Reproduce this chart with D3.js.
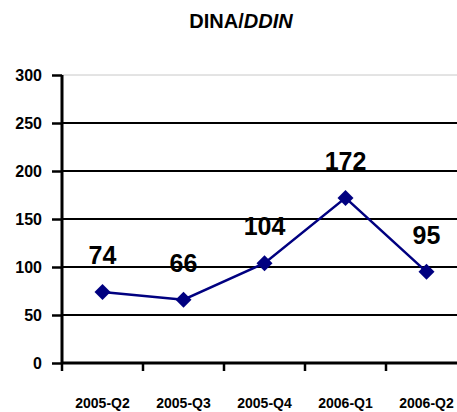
<!DOCTYPE html>
<html>
<head>
<meta charset="utf-8">
<script src="https://cdn.jsdelivr.net/npm/d3@7"></script>
<style>
  body { margin: 0; background: #fff; overflow: hidden; }
  text { font-family: "Liberation Sans", Arial, sans-serif; font-weight: bold; }
</style>
</head>
<body>
<div id="chart"></div>
<script>
const quarters = ["2005-Q2", "2005-Q3", "2005-Q4", "2006-Q1", "2006-Q2"];
const values = [74, 66, 104, 172, 95];
const yTicks = [0, 50, 100, 150, 200, 250, 300];

const W = 457, H = 412;
const margin = { top: 75, left: 62 };
const plotW = 405;   // plot runs past the right edge, as in the original
const plotH = 288;

const svg = d3.select("#chart")
  .append("svg")
  .attr("width", W)
  .attr("height", H);

const g = svg.append("g")
  .attr("transform", `translate(${margin.left},${margin.top})`);

const x = d3.scaleBand().domain(quarters).range([0, plotW]);
const y = d3.scaleLinear().domain([0, 300]).range([plotH, 0]);

// title
const title = svg.append("text")
  .attr("x", 241)
  .attr("y", 28)
  .attr("text-anchor", "middle")
  .attr("font-size", 20);
title.append("tspan").text("DINA/");
title.append("tspan").attr("font-style", "italic").text("DDIN");

// gridlines
g.selectAll(".grid")
  .data(yTicks.filter(d => d > 0))
  .enter()
  .append("line")
  .attr("x1", 0)
  .attr("x2", plotW)
  .attr("y1", d => y(d))
  .attr("y2", d => y(d))
  .attr("stroke", d => d === 300 ? "#c8c8c8" : "#000")
  .attr("stroke-width", d => d === 300 ? 1 : 2);

// y axis
const yAxis = g.append("g")
  .call(d3.axisLeft(y).tickValues(yTicks).tickSize(10).tickPadding(10));
yAxis.select(".domain").attr("stroke-width", 3).attr("d", `M0,0V${plotH}`);
yAxis.selectAll(".tick line").attr("stroke-width", 2.5);
yAxis.selectAll(".tick text").attr("font-size", 16).attr("fill", "#000")
  .style("font-family", "'Liberation Sans', Arial, sans-serif").style("font-weight", "bold");

// x axis
const xAxis = g.append("g")
  .attr("transform", `translate(0,${plotH})`)
  .call(d3.axisBottom(x).tickSize(0).tickPadding(35));
xAxis.select(".domain").attr("stroke-width", 3).attr("d", `M0,0H${plotW}`);
xAxis.selectAll(".tick text").attr("font-size", 14).attr("fill", "#000")
  .style("font-family", "'Liberation Sans', Arial, sans-serif").style("font-weight", "bold");

// category boundary ticks
g.selectAll(".xtick")
  .data(quarters)
  .enter()
  .append("line")
  .attr("x1", d => x(d))
  .attr("x2", d => x(d))
  .attr("y1", plotH)
  .attr("y2", plotH + 8)
  .attr("stroke", "#000")
  .attr("stroke-width", 2.5);

const cx = d => x(d) + x.bandwidth() / 2;

// line
const line = d3.line()
  .x((d, i) => cx(quarters[i]))
  .y(d => y(d));

g.append("path")
  .datum(values)
  .attr("d", line)
  .attr("fill", "none")
  .attr("stroke", "#000080")
  .attr("stroke-width", 2.5);

// markers (square diamonds)
g.selectAll(".pt")
  .data(values)
  .enter()
  .append("path")
  .attr("d", "M0,-8L8,0L0,8L-8,0Z")
  .attr("transform", (d, i) => `translate(${cx(quarters[i])},${y(d)})`)
  .attr("fill", "#000080");

// value labels
g.selectAll(".lbl")
  .data(values)
  .enter()
  .append("text")
  .attr("x", (d, i) => cx(quarters[i]))
  .attr("y", d => y(d) - 28)
  .attr("text-anchor", "middle")
  .attr("font-size", 25)
  .attr("fill", "#000")
  .text(d => d);
</script>
</body>
</html>
